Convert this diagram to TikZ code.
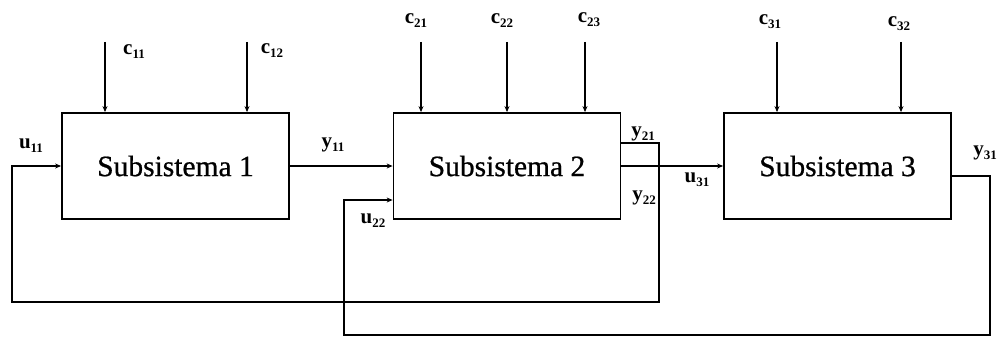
\documentclass[tikz,border=0pt]{standalone}
\usepackage{fontspec}
\setmainfont{Liberation Serif}
\newfontfamily\boxfont[FakeBold=0.7]{Liberation Serif}
\usetikzlibrary{arrows.meta}
\newcommand{\lbl}[2]{{\fontsize{21}{23}\selectfont\bfseries #1\raisebox{-4pt}{\fontsize{13}{14}\selectfont\bfseries #2}}}
\begin{document}
\begin{tikzpicture}[x=1pt,y=-1pt,
  sysbox/.style={draw,line width=1.8pt,minimum width=227pt,minimum height=106pt,inner sep=0pt,font=\boxfont\fontsize{29.5}{32}\selectfont},
  wire/.style={line width=1.7pt},
  arr/.style={wire,-{Stealth[length=6pt,width=5pt]}},
  lab/.style={inner sep=0pt}]
\useasboundingbox (0,0) rectangle (998,337);
% boxes
\node[sysbox] (b1) at (175.5,166) {Subsistema 1};
\node[sysbox] (b2) at (507,166) {Subsistema 2};
\node[sysbox] (b3) at (837.5,166) {Subsistema 3};
% top input coordinates
\coordinate (t11) at (105,42);
\coordinate (t12) at (247,42);
\coordinate (t21) at (421,42);
\coordinate (t22) at (507,42);
\coordinate (t23) at (585,42);
\coordinate (t31) at (777,42);
\coordinate (t32) at (901,42);
\foreach \c/\b in {t11/b1,t12/b1,t21/b2,t22/b2,t23/b2,t31/b3,t32/b3}
  \draw[arr] (\c) -- (\c |- \b.north);
% feedback waypoints
\coordinate (f1) at (659,143);
\coordinate (f2) at (659,302);
\coordinate (f3) at (12,302);
\coordinate (f4) at (12,166);
\coordinate (g0) at (951,176);
\coordinate (g1) at (990,176);
\coordinate (g2) at (990,335);
\coordinate (g3) at (344,335);
\coordinate (g4) at (344,200);
% connectors
\draw[arr] (b1.east) -- (b2.west);
\draw[arr] (b2.east) -- (b3.west);
\draw[arr] (f1 -| b2.east) -- (f1) -- (f2) -- (f3) -- (f4) -- (b1.west);
\draw[arr] (g0) -- (g1) -- (g2) -- (g3) -- (g4) -- (g4 -| b2.west);
% labels
\node[lab] (lc11) at (134,52) {\lbl{c}{11}};
\node[lab] (lc12) at (272,51) {\lbl{c}{12}};
\node[lab] (lc21) at (416,21) {\lbl{c}{21}};
\node[lab] (lc22) at (502,21) {\lbl{c}{22}};
\node[lab] (lc23) at (589,20) {\lbl{c}{23}};
\node[lab] (lc31) at (770,22) {\lbl{c}{31}};
\node[lab] (lc32) at (899,24) {\lbl{c}{32}};
\node[lab] (lu11) at (31,146) {\lbl{u}{11}};
\node[lab] (ly11) at (333,145) {\lbl{y}{11}};
\node[lab] (lu22) at (373,221) {\lbl{u}{22}};
\node[lab] (ly21) at (643,134) {\lbl{y}{21}};
\node[lab] (ly22) at (644,198) {\lbl{y}{22}};
\node[lab] (lu31) at (697,180) {\lbl{u}{31}};
\node[lab] (ly31) at (985,153) {\lbl{y}{31}};
\end{tikzpicture}
\end{document}
